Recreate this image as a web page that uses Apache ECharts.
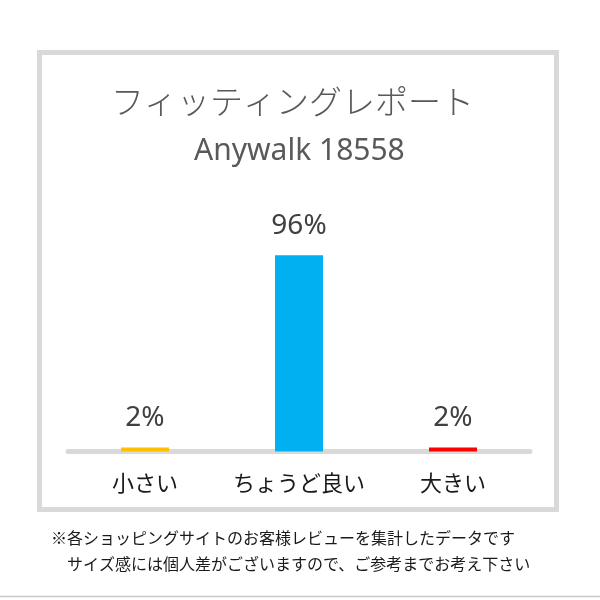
<!DOCTYPE html>
<html>
<head>
<meta charset="utf-8">
<script src="https://cdn.jsdelivr.net/npm/echarts@6/dist/echarts.min.js"></script>
<style>
  html, body { margin: 0; padding: 0; background: #fff; }
  #chart { width: 600px; height: 600px; }
</style>
</head>
<body>
<div id="chart"></div>
<script>
// fitting report data
const categories = ['小さい', 'ちょうど良い', '大きい'];
const percents = [2, 96, 2];
const barColors = ['#FFC000', '#00B0F0', '#FF0000'];

const titleText = 'フィッティングレポート';
const subtitleText = 'Anywalk 18558';
const noteLines = [
    '※各ショッピングサイトのお客様レビューを集計したデータです',
    '　サイズ感には個人差がございますので、ご参考までお考え下さい'
];

const jpFont = "'Noto Sans CJK JP', 'Noto Sans', sans-serif";
const latinFont = "'Noto Sans', 'Noto Sans CJK JP', sans-serif";

function getOption() {
    const option = {
        animation: false,
        backgroundColor: '#fff',
        title: [
            {
                text: titleText,
                left: 106,
                top: 80,
                textStyle: {
                    fontFamily: jpFont,
                    fontSize: 33,
                    fontWeight: 300,
                    color: '#595959',
                },
            },
            {
                text: subtitleText,
                left: 189,
                top: 131,
                textStyle: {
                    fontFamily: latinFont,
                    fontSize: 30,
                    fontWeight: 'normal',
                    color: '#595959',
                },
            },
            {
                text: noteLines.join('\n'),
                left: 46,
                top: 520,
                textStyle: {
                    fontFamily: jpFont,
                    fontSize: 16,
                    fontWeight: 'normal',
                    lineHeight: 26,
                    color: '#1a1a1a',
                },
            },
        ],
        grid: {
            left: 68,
            right: 70,
            top: 247,
            bottom: 148.5,
        },
        xAxis: {
            type: 'category',
            data: categories,
            axisLine: {
                lineStyle: {color: '#d9d9d9', width: 5},
            },
            axisTick: {show: false},
            axisLabel: {
                interval: 0,
                margin: 20,
                fontFamily: jpFont,
                fontSize: 22,
                color: '#1a1a1a',
            },
        },
        yAxis: {
            type: 'value',
            min: 0,
            max: 100,
            show: false,
        },
        series: [
            {
                type: 'bar',
                barWidth: 48,
                data: percents.map((v, i) => ({
                    value: v,
                    itemStyle: {color: barColors[i]},
                })),
                label: {
                    show: true,
                    position: 'top',
                    distance: 15,
                    formatter: '{c}%',
                    fontFamily: latinFont,
                    fontSize: 28,
                    color: '#404040',
                },
            },
        ],
        graphic: [
            {
                type: 'rect',
                shape: {x: 39.5, y: 52.5, width: 517, height: 457},
                style: {fill: null, stroke: '#d9d9d9', lineWidth: 5},
                silent: true,
            },
            {
                type: 'line',
                shape: {x1: 0, y1: 596.5, x2: 600, y2: 596.5},
                style: {stroke: '#c8c8c8', lineWidth: 1.5},
                silent: true,
            },
        ],
    };
    return option;
}

const chart = echarts.init(document.getElementById('chart'));
chart.setOption(getOption());
</script>
</body>
</html>
